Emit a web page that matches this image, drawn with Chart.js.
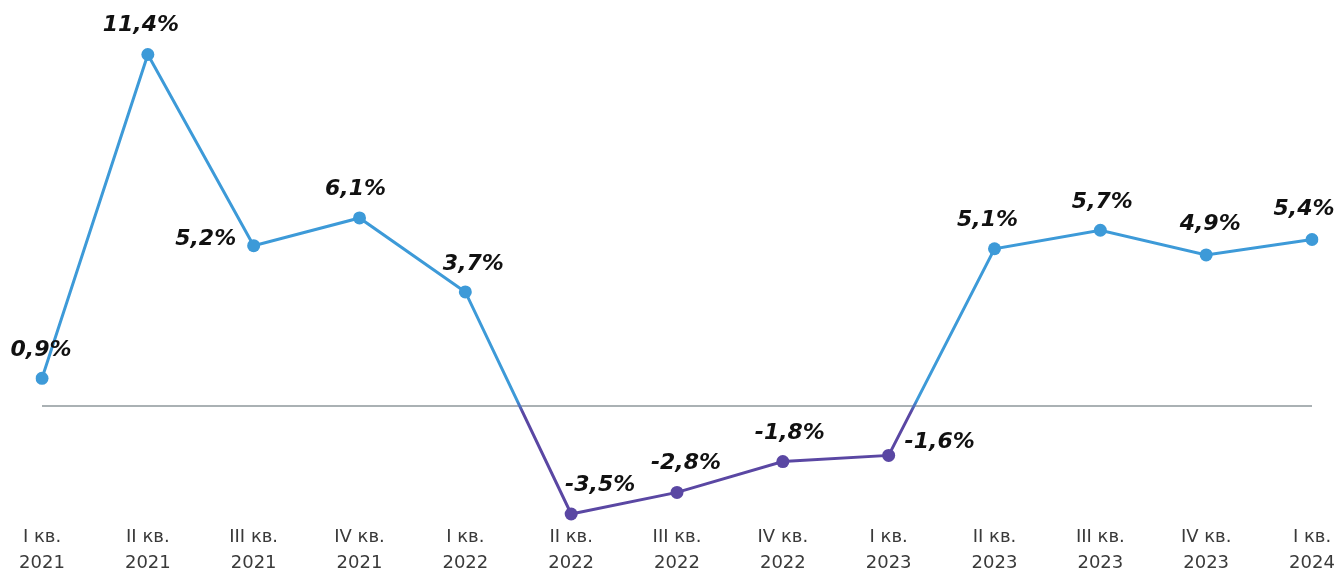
<!DOCTYPE html>
<html lang="ru">
<head>
    <meta charset="UTF-8">
    <title>Темпы роста по кварталам</title>
    <script src="https://cdn.jsdelivr.net/npm/chart.js"></script>
    <style>
        html, body { margin: 0; padding: 0; background: #fff; overflow: hidden; }
        canvas { display: block; }
    </style>
</head>
<body>
<canvas id="growthChart" width="1338" height="572"></canvas>
<script>
    // кварталы и годы
    const quarters = ['I кв.', 'II кв.', 'III кв.', 'IV кв.', 'I кв.', 'II кв.', 'III кв.', 'IV кв.', 'I кв.', 'II кв.', 'III кв.', 'IV кв.', 'I кв.'];
    const years = ['2021', '2021', '2021', '2021', '2022', '2022', '2022', '2022', '2023', '2023', '2023', '2023', '2024'];
    // прирост, %
    const growth = [0.9, 11.4, 5.2, 6.1, 3.7, -3.5, -2.8, -1.8, -1.6, 5.1, 5.7, 4.9, 5.4];

    const BLUE = '#3d9ad8';
    const PURPLE = '#5a47a3';
    const FONT = '"DejaVu Sans", sans-serif';

    Chart.defaults.font.family = FONT;

    // сдвиг подписи относительно точки
    const labelShift = [
        [-1, -28], [-7, -29], [-48, -6], [-4, -29], [8, -28], [29, -29], [9, -29],
        [7, -28], [51, -13], [-7, -28], [2, -28], [4, -31], [-8, -30]
    ];

    const fmt = v => v.toFixed(1).replace('.', ',') + '%';

    // линия синяя выше нуля и фиолетовая ниже
    function lineColor(ctx) {
        const chart = ctx.chart;
        const area = chart.chartArea;
        if (!area) return BLUE;
        const y0 = chart.scales.y.getPixelForValue(0);
        const g = chart.ctx.createLinearGradient(0, area.top, 0, area.bottom);
        const s = (y0 - area.top) / (area.bottom - area.top);
        g.addColorStop(0, BLUE);
        g.addColorStop(Math.max(0, s - 0.012), BLUE);
        g.addColorStop(Math.min(1, s + 0.012), PURPLE);
        g.addColorStop(1, PURPLE);
        return g;
    }

    const valueLabels = {
        id: 'valueLabels',
        afterDatasetsDraw(chart) {
            const c = chart.ctx;
            const meta = chart.getDatasetMeta(0);
            c.save();
            c.font = 'italic bold 22px ' + FONT;
            c.fillStyle = '#111';
            c.textAlign = 'center';
            c.textBaseline = 'middle';
            meta.data.forEach((pt, i) => {
                const [dx, dy] = labelShift[i];
                c.fillText(fmt(growth[i]), pt.x + dx, pt.y + dy);
            });
            c.restore();
        }
    };

    new Chart(document.getElementById('growthChart'), {
        type: 'line',
        data: {
            labels: quarters.map((q, i) => [q, years[i]]),
            datasets: [{
                data: growth,
                borderColor: lineColor,
                borderWidth: 3,
                tension: 0,
                pointRadius: 6.5,
                pointHoverRadius: 6.5,
                pointBorderWidth: 0,
                pointBackgroundColor: growth.map(v => v < 0 ? PURPLE : BLUE),
                fill: false
            }]
        },
        options: {
            responsive: false,
            animation: false,
            layout: { padding: { left: 42, right: 26, top: 36, bottom: 0 } },
            plugins: {
                legend: { display: false },
                tooltip: { enabled: false }
            },
            scales: {
                x: {
                    offset: false,
                    grid: { display: false, drawTicks: false },
                    border: { display: false },
                    // подписи кварталов занимают нижние 48px
                    afterFit: scale => { scale.height = 48; },
                    ticks: {
                        color: '#3a3a3a',
                        font: { family: FONT, size: 18, weight: 'normal', lineHeight: 1.444 },
                        padding: 0,
                        maxRotation: 0,
                        autoSkip: false
                    }
                },
                y: {
                    min: -3.825,
                    max: 12,
                    display: true,
                    border: { display: false },
                    grid: {
                        drawTicks: false,
                        lineWidth: 2,
                        color: ctx => ctx.tick && ctx.tick.value === 0 ? '#aab1b4' : 'rgba(0,0,0,0)'
                    },
                    ticks: { display: false, stepSize: 1 }
                }
            }
        },
        plugins: [valueLabels]
    });
</script>
</body>
</html>
